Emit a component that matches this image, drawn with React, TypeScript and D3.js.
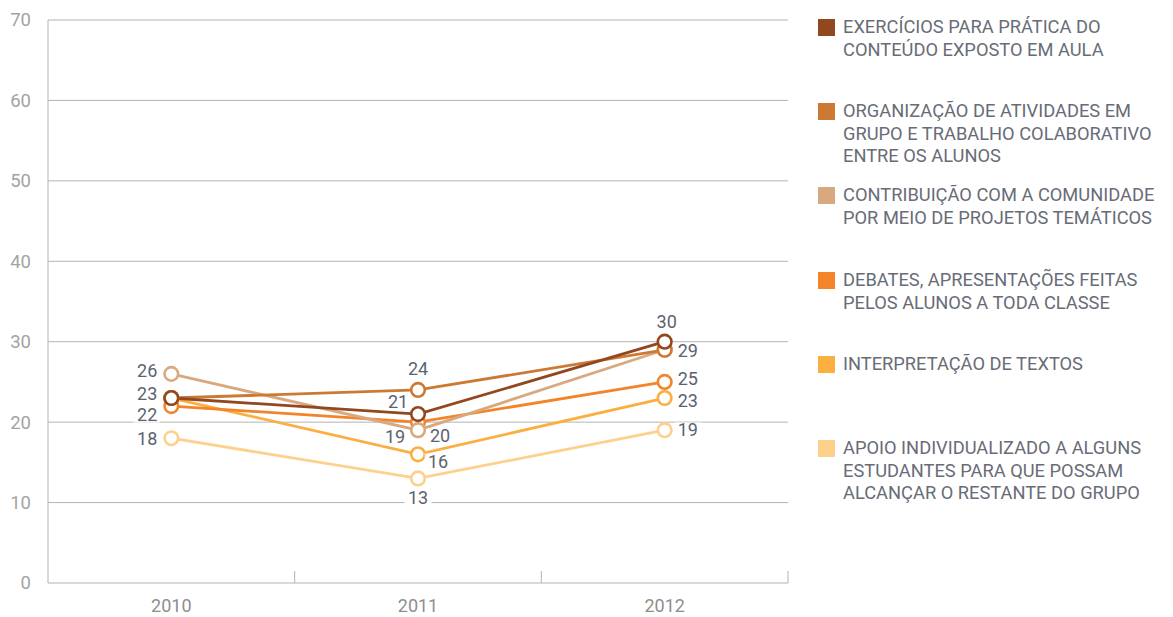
import React from "react";
import * as d3 from "d3";

const years = ["2010", "2011", "2012"];
const yTicks = [0, 10, 20, 30, 40, 50, 60, 70];

const seriesNames = [
  ["EXERCÍCIOS PARA PRÁTICA DO", "CONTEÚDO EXPOSTO EM AULA"],
  ["ORGANIZAÇÃO DE ATIVIDADES EM", "GRUPO E TRABALHO COLABORATIVO", "ENTRE OS ALUNOS"],
  ["CONTRIBUIÇÃO COM A COMUNIDADE", "POR MEIO DE PROJETOS TEMÁTICOS"],
  ["DEBATES, APRESENTAÇÕES FEITAS", "PELOS ALUNOS A TODA CLASSE"],
  ["INTERPRETAÇÃO DE TEXTOS"],
  ["APOIO INDIVIDUALIZADO A ALGUNS", "ESTUDANTES PARA QUE POSSAM", "ALCANÇAR O RESTANTE DO GRUPO"],
];

const exercicios = [23, 21, 30];
const organizacao = [23, 24, 29];
const contribuicao = [26, 19, 29];
const debates = [22, 20, 25];
const interpretacao = [23, 16, 23];
const apoio = [18, 13, 19];

const seriesValues = [exercicios, organizacao, contribuicao, debates, interpretacao, apoio];
const colors = ["#92471f", "#cc7a33", "#d8a97f", "#f3842a", "#fbaf41", "#fdd08c"];

// label placement per series/year: [dx, dy, anchor] or null (no label)
type Place = [number, number, string] | null;
const placements: Place[][] = [
  [[-14, -4, "end"], [-20, -12, "middle"], [2, -20, "middle"]],
  [null, [0, -21, "middle"], [13, 1, "start"]],
  [[-14, -3, "end"], [-23, 7, "middle"], null],
  [[-14, 9, "end"], [22, 14, "middle"], [13, -3, "start"]],
  [null, [20, 7, "middle"], [13, 3, "start"]],
  [[-14, 0, "end"], [0, 19, "middle"], [13, 0, "start"]],
];

const W = 1173;
const H = 617;
const left = 48;
const right = 788;
const top = 20;
const bottom = 583;

export default function App() {
  const x = d3.scaleBand<string>().domain(years).range([left, right]).padding(0);
  const y = d3.scaleLinear().domain([0, 70]).range([bottom, top]);
  const cx = (yr: string) => (x(yr) as number) + x.bandwidth() / 2;
  const line = d3
    .line<number>()
    .x((_, i) => cx(years[i]))
    .y((d) => y(d));

  const gridColor = "#b3b3b3";
  const labelColor = "#5c6270";
  const legendTop = [27, 111, 195, 280, 364, 448];

  const order = d3.range(seriesValues.length).reverse();

  return (
    <svg width={W} height={H} style={{ position: "absolute", left: 0, top: 0, background: "#fff" }}
      fontFamily="'Roboto', 'Liberation Sans', Arial, sans-serif">
      {yTicks.filter((t) => t > 0).map((t) => (
        <line key={t} x1={left} x2={right} y1={y(t)} y2={y(t)} stroke={gridColor} strokeWidth={1} />
      ))}
      <line x1={left} x2={left} y1={top} y2={bottom} stroke={gridColor} strokeWidth={1} />
      <line x1={left} x2={right} y1={bottom} y2={bottom} stroke={gridColor} strokeWidth={1.2} />
      {years.map((yr, i) => (
        <line key={"bt" + i} x1={(x(yr) as number) + x.bandwidth()} x2={(x(yr) as number) + x.bandwidth()}
          y1={bottom} y2={bottom - 12} stroke={gridColor} strokeWidth={1} />
      ))}
      {yTicks.map((t) => (
        <text key={"yt" + t} x={31} y={y(t)} dy="0.35em" textAnchor="end" fontSize={18.5} fill="#a3a3a3">
          {t}
        </text>
      ))}
      {years.map((yr) => (
        <text key={"xl" + yr} x={cx(yr)} y={606} dy="0.35em" textAnchor="middle" fontSize={18} fill="#8e8e8e">
          {yr}
        </text>
      ))}

      {order.map((si) => (
        <path key={"l" + si} d={line(seriesValues[si]) || ""} fill="none" stroke={colors[si]} strokeWidth={2.8} />
      ))}
      {order.map((si) => (
        <g key={"m" + si}>
          {seriesValues[si].map((v, i) => (
            <circle key={i} cx={cx(years[i])} cy={y(v)} r={6.8} fill="#fff" stroke={colors[si]} strokeWidth={2.6} />
          ))}
        </g>
      ))}
      {seriesValues.map((vals, si) =>
        vals.map((v, i) => {
          const p = placements[si][i];
          if (!p) return null;
          const tx = cx(years[i]) + p[0];
          const ty = y(v) + p[1];
          const w = 21;
          const rx = p[2] === "end" ? tx - w : p[2] === "start" ? tx : tx - w / 2;
          return (
            <g key={"lb" + si + "-" + i}>
              <rect x={rx - 3} y={ty - 8} width={w + 6} height={16} fill="#fff" opacity={si === 5 && i === 1 ? 1 : 0.6} />
              <text x={tx} y={ty} dy="0.35em" textAnchor={p[2]} fontSize={18} fill={labelColor}>
                {v}
              </text>
            </g>
          );
        })
      )}

      {seriesNames.map((lines, si) => (
        <g key={"lg" + si}>
          <rect x={818} y={legendTop[si] - 8} width={17} height={17} fill={colors[si]} />
          {lines.map((ln, j) => (
            <text key={j} x={843} y={legendTop[si] + j * 22.5} dy="0.35em" fontSize={18.3} fill="#686c76">
              {ln}
            </text>
          ))}
        </g>
      ))}
    </svg>
  );
}
